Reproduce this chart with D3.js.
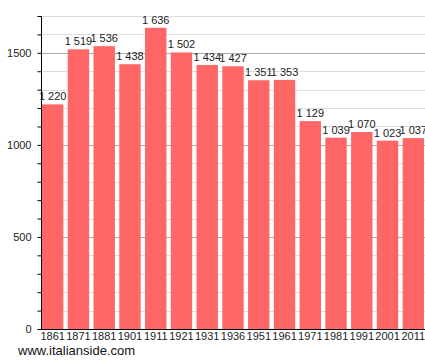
<!DOCTYPE html>
<html>
<head>
<meta charset="utf-8">
<script src="https://cdn.jsdelivr.net/npm/d3@7"></script>
<style>
  body { margin: 0; background: #fff; }
  text { font-family: "Liberation Sans", Arial, sans-serif; }
</style>
</head>
<body>
<svg id="chart" width="425" height="363"></svg>
<script>
(function () {
    let w = 425,
        h = 363;

    let years = ["1861", "1871", "1881", "1901", "1911", "1921", "1931", "1936",
        "1951", "1961", "1971", "1981", "1991", "2001", "2011"];
    let population = [1220, 1519, 1536, 1438, 1636, 1502, 1434, 1427,
        1351, 1353, 1129, 1039, 1070, 1023, 1037];
    let yTicks = [0, 500, 1000, 1500];

    let left = 41, right = 425, top = 16, bottom = 329;

    let svg = d3.select("#chart");

    let x = d3.scaleBand()
        .domain(years)
        .range([42, 424])
        .paddingInner(0.17)
        .paddingOuter(0);

    let y = d3.scaleLinear()
        .domain([0, 1700])
        .range([bottom, top]);

    // grid lines, minor every 100 and major every 500
    let minor = d3.range(100, 1701, 100).filter(v => v % 500 != 0);
    svg.append("g").selectAll("line")
        .data(minor).enter().append("line")
        .attr("x1", left).attr("x2", right)
        .attr("y1", d => Math.round(y(d)) + 0.5)
        .attr("y2", d => Math.round(y(d)) + 0.5)
        .attr("stroke", "#dddddd");

    svg.append("g").selectAll("line")
        .data(yTicks.filter(v => v > 0)).enter().append("line")
        .attr("x1", left).attr("x2", right)
        .attr("y1", d => Math.round(y(d)) + 0.5)
        .attr("y2", d => Math.round(y(d)) + 0.5)
        .attr("stroke", "#aaaaaa");

    // bars
    svg.append("g").selectAll("rect")
        .data(years).enter().append("rect")
        .attr("x", d => x(d))
        .attr("width", x.bandwidth())
        .attr("y", (d, i) => y(population[i]))
        .attr("height", (d, i) => bottom - y(population[i]))
        .attr("fill", "#ff6666");

    // value labels
    let fmt = v => d3.format(",")(v).replace(",", " ");
    svg.append("g").selectAll("text")
        .data(years).enter().append("text")
        .attr("x", d => x(d) + x.bandwidth() / 2)
        .attr("y", (d, i) => y(population[i]) - 4)
        .attr("text-anchor", "middle")
        .attr("font-size", 11)
        .attr("fill", "#222")
        .text((d, i) => fmt(population[i]));

    // y axis
    let yAxis = svg.append("g")
        .attr("transform", `translate(${left + 0.5},0)`)
        .call(d3.axisLeft(y).tickValues(d3.range(0, 1701, 100)).tickSize(4)
            .tickFormat(d => yTicks.includes(d) ? d : ""));
    yAxis.select(".domain").attr("d", `M0,${top}V${bottom}`).attr("stroke", "#000");
    yAxis.selectAll(".tick line").attr("stroke", "#000");
    yAxis.selectAll(".tick text").attr("font-size", 11).attr("fill", "#222")
        .attr("font-family", "Liberation Sans, Arial, sans-serif").attr("x", -10);

    // x axis
    let xAxis = svg.append("g")
        .attr("transform", `translate(0,${bottom + 0.5})`)
        .call(d3.axisBottom(x).tickSize(0).tickPadding(3));
    xAxis.select(".domain").attr("d", `M${left},0H${right}`).attr("stroke", "#000");
    xAxis.selectAll(".tick text").attr("font-size", 11).attr("fill", "#222")
        .attr("font-family", "Liberation Sans, Arial, sans-serif");

    svg.append("text")
        .attr("x", 18)
        .attr("y", 355)
        .attr("font-size", 13)
        .attr("fill", "#111")
        .text("www.italianside.com");
})();
</script>
</body>
</html>
